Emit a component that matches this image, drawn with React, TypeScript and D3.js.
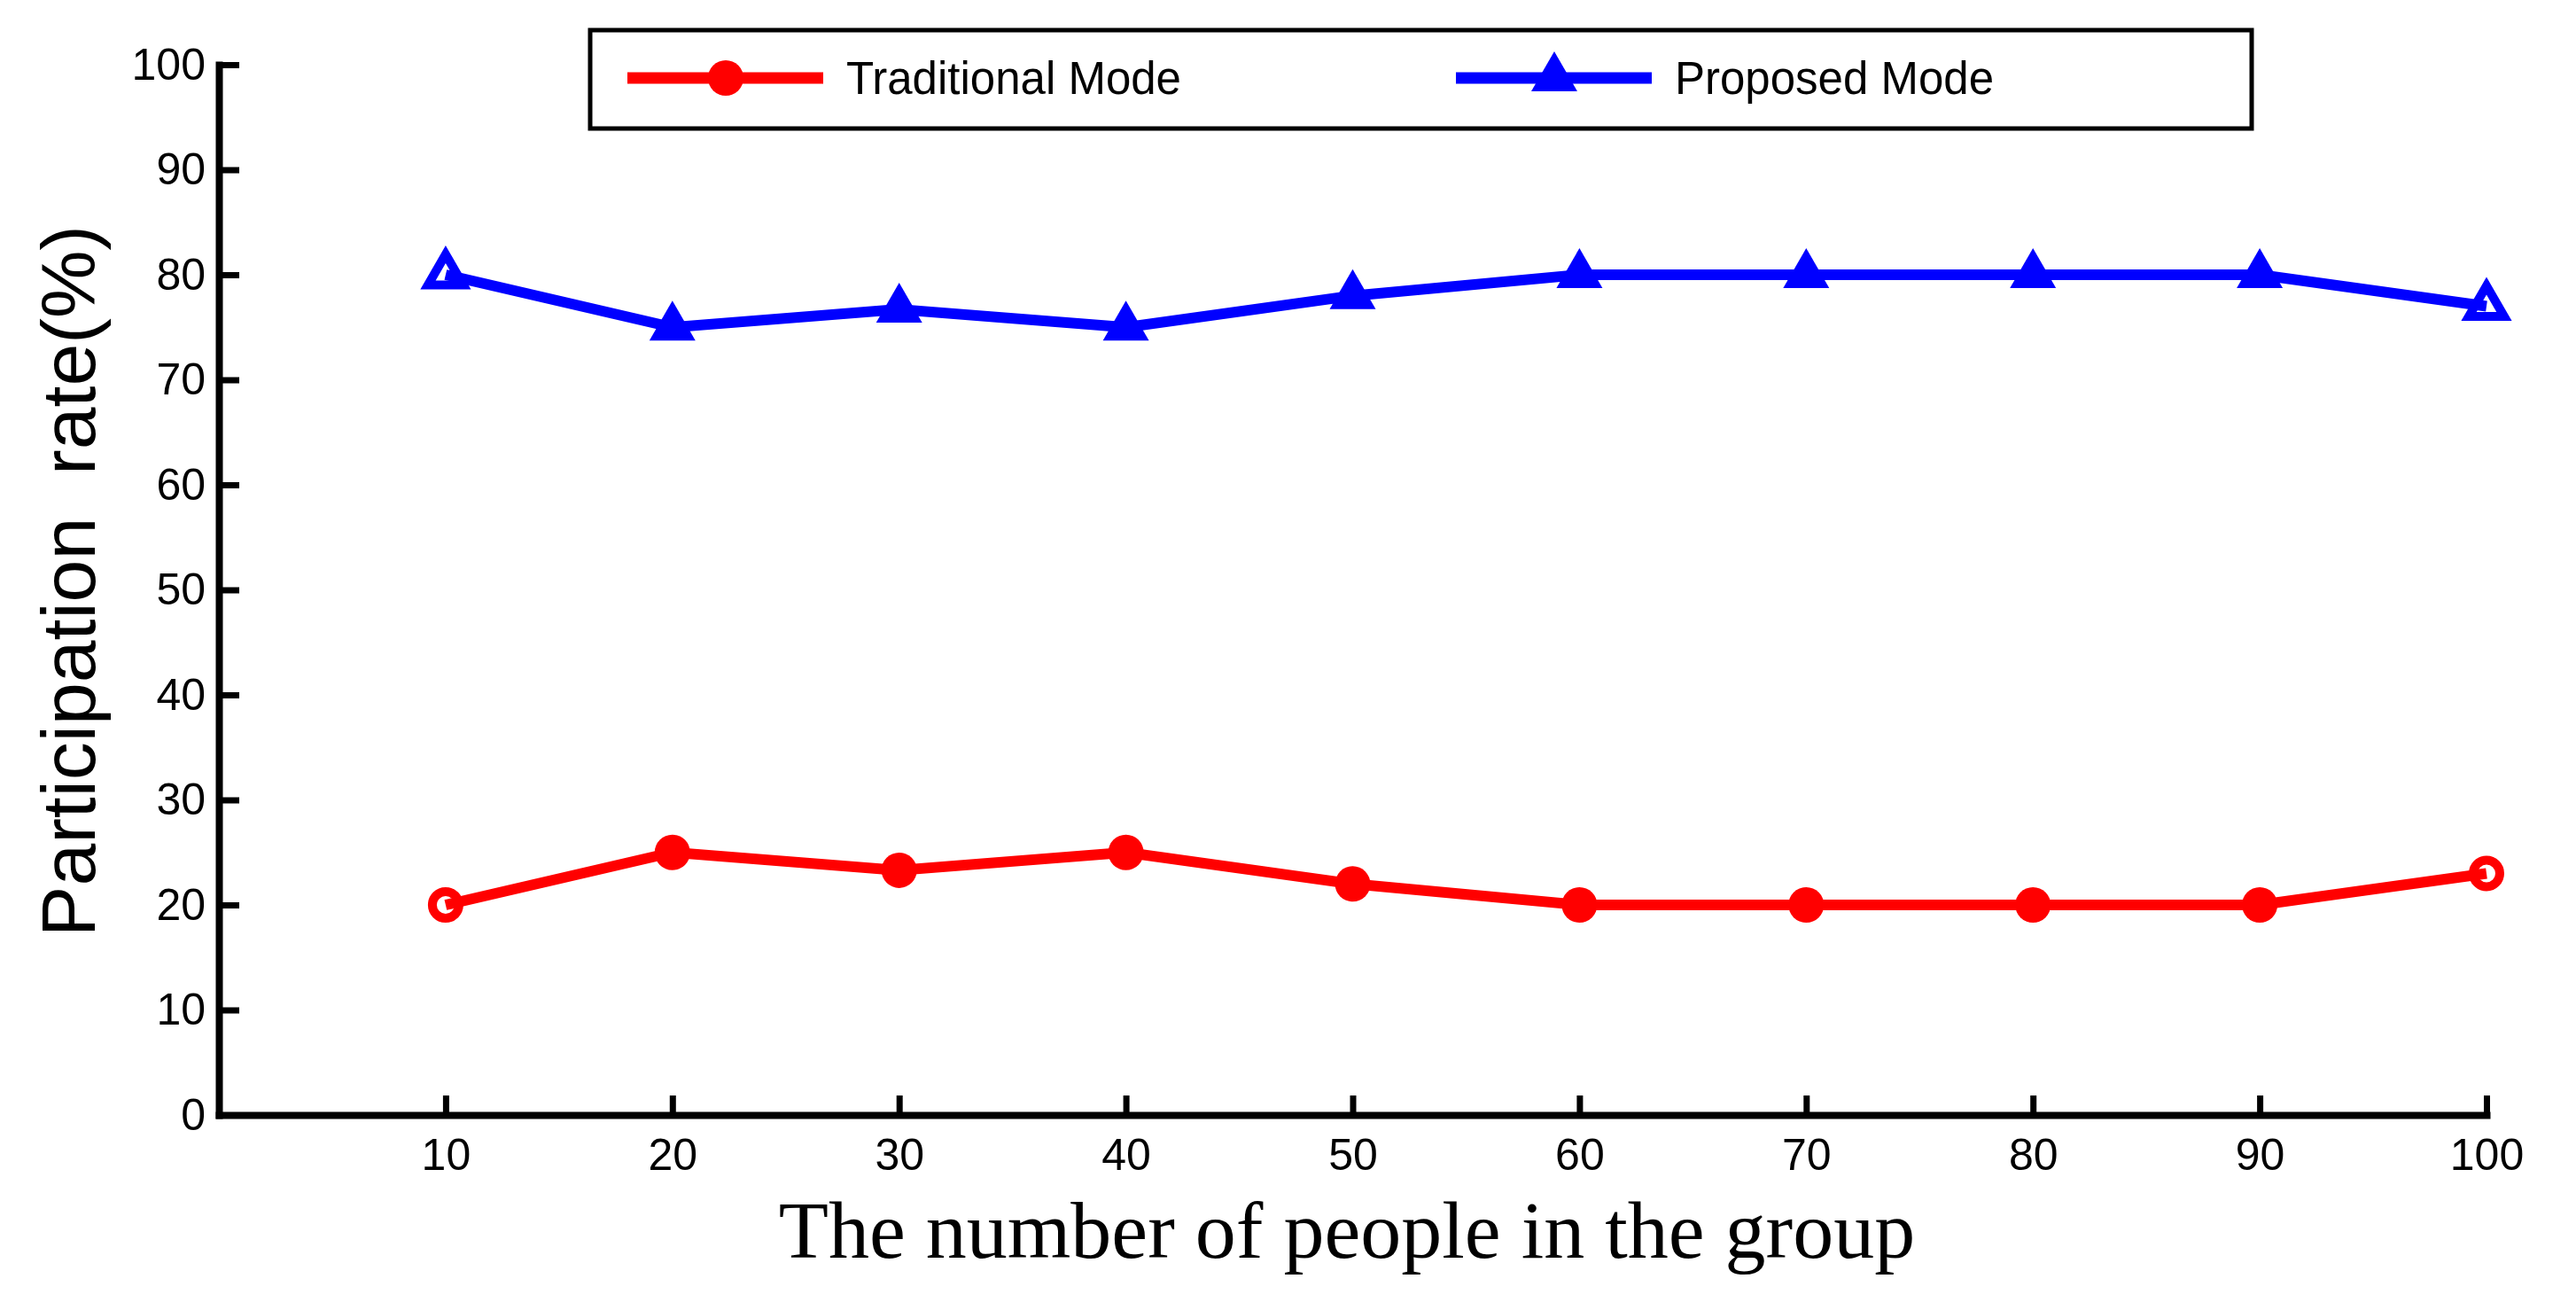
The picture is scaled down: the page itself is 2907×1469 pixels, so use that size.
import React, { useEffect, useRef } from "react";
import * as d3 from "d3";

const groupSizes = [10, 20, 30, 40, 50, 60, 70, 80, 90, 100];
const traditionalRate = [20, 25, 23.3, 25, 22, 20, 20, 20, 20, 23];
const proposedRate = [80, 75, 76.7, 75, 78, 80, 80, 80, 80, 77];
const xTicks = [10, 20, 30, 40, 50, 60, 70, 80, 90, 100];
const yTicks = [0, 10, 20, 30, 40, 50, 60, 70, 80, 90, 100];
const seriesNames = ["Traditional Mode", "Proposed Mode"];
const seriesColors = ["#ff0000", "#0000ff"];
const xTitle = "The number of people in the group";
const yTitle = "Participation  rate(%)";

const W = 2907;
const H = 1469;

export default function App() {
  const ref = useRef<SVGSVGElement>(null);

  useEffect(() => {
    const svg = d3.select(ref.current);
    svg.selectAll("*").remove();

    const x = d3.scaleLinear().domain([0, 100]).range([247, 2806]);
    const y = d3.scaleLinear().domain([0, 100]).range([1258, 73]);

    svg.append("rect").attr("width", W).attr("height", H).attr("fill", "#fff");

    // axes
    const gx = svg
      .append("g")
      .attr("transform", `translate(0,${y(0)})`)
      .call(
        d3
          .axisBottom(x)
          .tickValues(xTicks)
          .tickSizeInner(-22)
          .tickSizeOuter(0)
          .tickPadding(26)
          .tickFormat(d3.format("d"))
      );
    const gy = svg
      .append("g")
      .attr("transform", `translate(${x(0)},0)`)
      .call(
        d3
          .axisLeft(y)
          .tickValues(yTicks)
          .tickSizeInner(-23)
          .tickSizeOuter(0)
          .tickPadding(15)
          .tickFormat(d3.format("d"))
      );
    [gx, gy].forEach((g) => {
      g.select(".domain").attr("stroke", "#000").attr("stroke-width", 8).attr("stroke-linecap", "square");
      g.selectAll(".tick line").attr("stroke", "#000").attr("stroke-width", 7);
      g.selectAll(".tick text")
        .attr("fill", "#000")
        .style("font-family", "Arial, 'Liberation Sans', sans-serif")
        .style("font-size", "50px");
    });

    const series = [traditionalRate, proposedRate];
    const symbols = [d3.symbolCircle, d3.symbolTriangle];
    const bigSizes = [Math.PI * 20 * 20, 3 * Math.sqrt(3) * 15 * 15];
    const endSizes = [Math.PI * 15 * 15, 3 * Math.sqrt(3) * 11.5 * 11.5];

    const line = d3
      .line<number>()
      .x((_, i) => x(groupSizes[i]))
      .y((d) => y(d));

    series.forEach((vals, si) => {
      const g = svg.append("g");
      const color = seriesColors[si];
      vals.forEach((v, i) => {
        const isEnd = i === 0 || i === vals.length - 1;
        g.append("path")
          .attr("d", d3.symbol(symbols[si], isEnd ? endSizes[si] : bigSizes[si])()!)
          .attr("transform", `translate(${x(groupSizes[i])},${y(v)})`)
          .attr("fill", isEnd ? "#fff" : color)
          .attr("stroke", isEnd ? color : "none")
          .attr("stroke-width", isEnd ? 10 : 0);
      });
      g.append("path")
        .attr("d", line(vals)!)
        .attr("fill", "none")
        .attr("stroke", color)
        .attr("stroke-width", 12)
        .attr("stroke-linejoin", "round");
    });

    // legend
    const lg = svg.append("g");
    lg.append("rect")
      .attr("x", 666)
      .attr("y", 34)
      .attr("width", 1875)
      .attr("height", 111)
      .attr("fill", "#fff")
      .attr("stroke", "#000")
      .attr("stroke-width", 5);
    const legendX = [708, 1643];
    seriesNames.forEach((name, si) => {
      const x0 = legendX[si];
      lg.append("line")
        .attr("x1", x0)
        .attr("x2", x0 + 221)
        .attr("y1", 88)
        .attr("y2", 88)
        .attr("stroke", seriesColors[si])
        .attr("stroke-width", 13);
      lg.append("path")
        .attr("d", d3.symbol(symbols[si], bigSizes[si])()!)
        .attr("transform", `translate(${x0 + 111},88)`)
        .attr("fill", seriesColors[si]);
      lg.append("text")
        .attr("x", x0 + 247)
        .attr("y", 106)
        .attr("fill", "#000")
        .style("font-family", "Arial, 'Liberation Sans', sans-serif")
        .style("font-size", "51px")
        .text(name);
    });

    // titles
    svg
      .append("text")
      .attr("transform", `translate(107,${(y(0) + y(100)) / 2 - 10}) rotate(-90)`)
      .attr("text-anchor", "middle")
      .attr("fill", "#000")
      .style("font-family", "Arial, 'Liberation Sans', sans-serif")
      .style("font-size", "86px")
      .style("white-space", "pre")
      .text(yTitle);
    svg
      .append("text")
      .attr("x", 1520)
      .attr("y", 1419)
      .attr("text-anchor", "middle")
      .attr("fill", "#000")
      .style("font-family", "'Liberation Serif', 'Times New Roman', serif")
      .style("font-size", "92px")
      .text(xTitle);
  }, []);

  return (
    <svg
      ref={ref}
      width={W}
      height={H}
      style={{ position: "absolute", left: 0, top: 0, display: "block" }}
    />
  );
}
